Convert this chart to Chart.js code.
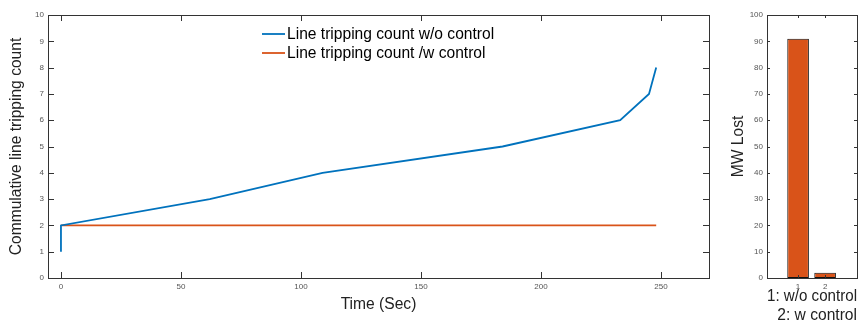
<!DOCTYPE html>
<html>
<head>
<meta charset="utf-8">
<script src="https://cdn.jsdelivr.net/npm/chart.js@4.4.1/dist/chart.umd.min.js"></script>
<style>
  body { margin: 0; background: #fff; width: 859px; height: 326px; overflow: hidden; position: relative; }
  #izq { position: absolute; left: 0; top: 0; width: 725px; height: 326px; }
  #der { position: absolute; left: 725px; top: 0; width: 134px; height: 326px; }
</style>
</head>
<body>
<div id="izq"><canvas id="tripChart"></canvas></div>
<div id="der"><canvas id="mwChart"></canvas></div>
<script>
// Datos
const tiempoSinControl = [0, 0, 62, 109, 184, 233, 245, 248];
const cuentaSinControl = [1, 2, 3, 4, 5, 6, 7, 8];
const tiempoConControl = [0, 248];
const cuentaConControl = [2, 2];
const tiempoTicks = [0, 50, 100, 150, 200, 250];
const cuentaTicks = [0, 1, 2, 3, 4, 5, 6, 7, 8, 9, 10];

const casos = [1, 2];
const mwPerdidos = [91, 2];
const mwTicks = [0, 10, 20, 30, 40, 50, 60, 70, 80, 90, 100];

const AZUL = '#0072BD';
const NARANJA = '#D95319';
const FUENTE = 'Arial, "Liberation Sans", sans-serif';
const TAM_TITULO = 15.6;

// Marcas de eje hacia dentro y caja alrededor del área (estilo MATLAB)
const marcasInternas = {
  id: 'marcasInternas',
  afterDraw(chart, args, opts) {
    const { ctx, chartArea: a, scales: { x, y } } = chart;
    const len = opts.len || 5;
    ctx.save();
    ctx.strokeStyle = '#333';
    ctx.lineWidth = 1;
    ctx.beginPath();
    x.ticks.forEach(t => {
      const px = Math.round(x.getPixelForValue(t.value)) + 0.5;
      ctx.moveTo(px, a.bottom); ctx.lineTo(px, a.bottom - len);
      ctx.moveTo(px, a.top); ctx.lineTo(px, a.top + len);
    });
    y.ticks.forEach(t => {
      const py = Math.round(y.getPixelForValue(t.value)) + 0.5;
      ctx.moveTo(a.left, py); ctx.lineTo(a.left + len, py);
      ctx.moveTo(a.right, py); ctx.lineTo(a.right - len, py);
    });
    ctx.stroke();
    ctx.strokeRect(Math.round(a.left) + 0.5, Math.round(a.top) + 0.5,
      Math.round(a.right - a.left), Math.round(a.bottom - a.top));
    ctx.restore();
  }
};

// Leyenda dentro del área del gráfico, sin caja
const leyendaInterna = {
  id: 'leyendaInterna',
  afterDraw(chart, args, opts) {
    const { ctx } = chart;
    ctx.save();
    ctx.font = TAM_TITULO + 'px ' + FUENTE;
    ctx.textBaseline = 'middle';
    ctx.fillStyle = '#000';
    chart.data.datasets.forEach((ds, i) => {
      const yy = opts.y + i * opts.gap;
      ctx.strokeStyle = ds.borderColor;
      ctx.lineWidth = 1.8;
      ctx.beginPath();
      ctx.moveTo(opts.x, yy);
      ctx.lineTo(opts.x + 23, yy);
      ctx.stroke();
      ctx.fillText(ds.label, opts.x + 25, yy + 1);
    });
    ctx.restore();
  }
};

const tickFont = { family: FUENTE, size: 8 };
const sinRejilla = { display: false, drawTicks: false };

// Gráfico de líneas: cuenta acumulada de disparos
new Chart(document.getElementById('tripChart'), {
  type: 'line',
  data: {
    datasets: [{
      label: 'Line tripping count w/o control',
      data: tiempoSinControl.map((t, i) => ({ x: t, y: cuentaSinControl[i] })),
      borderColor: AZUL,
      borderWidth: 1.8,
      pointRadius: 0,
      tension: 0
    }, {
      label: 'Line tripping count /w control',
      data: tiempoConControl.map((t, i) => ({ x: t, y: cuentaConControl[i] })),
      borderColor: NARANJA,
      borderWidth: 1.8,
      pointRadius: 0,
      tension: 0
    }]
  },
  options: {
    responsive: true,
    maintainAspectRatio: false,
    animation: false,
    layout: { padding: { top: 15, right: 16, left: 0, bottom: 0 } },
    plugins: {
      legend: { display: false },
      tooltip: { enabled: false },
      marcasInternas: { len: 6 },
      leyendaInterna: { x: 262, y: 34, gap: 19 }
    },
    scales: {
      x: {
        type: 'linear',
        min: -5.4,
        max: 270,
        grid: sinRejilla,
        border: { display: false },
        afterBuildTicks: s => { s.ticks = tiempoTicks.map(v => ({ value: v })); },
        afterFit: s => { s.height = 48; },
        ticks: { font: tickFont, color: '#555', padding: 4, maxRotation: 0 },
        title: { display: true, text: 'Time (Sec)', font: { family: FUENTE, size: TAM_TITULO }, color: '#222', padding: { top: 0, bottom: 11.6 } }
      },
      y: {
        min: 0,
        max: 10,
        grid: sinRejilla,
        border: { display: false },
        afterBuildTicks: s => { s.ticks = cuentaTicks.map(v => ({ value: v })); },
        afterFit: s => { s.width = 48; },
        ticks: { font: tickFont, color: '#555', padding: 4 },
        title: { display: true, text: 'Commulative line tripping count', font: { family: FUENTE, size: TAM_TITULO }, color: '#222', padding: { top: 7.6, bottom: 0 } }
      }
    }
  },
  plugins: [marcasInternas, leyendaInterna]
});

// Gráfico de barras: MW perdidos
new Chart(document.getElementById('mwChart'), {
  type: 'bar',
  data: {
    datasets: [{
      label: 'MW Lost',
      data: casos.map((c, i) => ({ x: c, y: mwPerdidos[i] })),
      backgroundColor: NARANJA,
      borderColor: '#111',
      borderWidth: 1,
      borderSkipped: false,
      barPercentage: 0.8,
      categoryPercentage: 1
    }]
  },
  options: {
    responsive: true,
    maintainAspectRatio: false,
    animation: false,
    layout: { padding: { top: 15, right: 2, left: 0, bottom: 0 } },
    plugins: {
      legend: { display: false },
      tooltip: { enabled: false },
      marcasInternas: { len: 3 }
    },
    scales: {
      x: {
        type: 'linear',
        min: -0.15,
        max: 3.18,
        offset: false,
        grid: sinRejilla,
        border: { display: false },
        afterBuildTicks: s => { s.ticks = casos.map(v => ({ value: v })); },
        afterFit: s => { s.height = 48; },
        ticks: { font: tickFont, color: '#555', padding: 4, maxRotation: 0 },
        title: {
          display: true,
          text: ['1: w/o control', '2: w control'],
          align: 'end',
          font: { family: FUENTE, size: TAM_TITULO, lineHeight: 1.22 },
          color: '#222',
          padding: { top: 0, bottom: 0.5 }
        }
      },
      y: {
        min: 0,
        max: 100,
        grid: sinRejilla,
        border: { display: false },
        afterBuildTicks: s => { s.ticks = mwTicks.map(v => ({ value: v })); },
        afterFit: s => { s.width = 42; },
        ticks: { font: tickFont, color: '#555', padding: 4 },
        title: { display: true, text: 'MW Lost', font: { family: FUENTE, size: TAM_TITULO }, color: '#222', padding: { top: 4, bottom: 0 } }
      }
    }
  },
  plugins: [marcasInternas]
});
</script>
</body>
</html>
